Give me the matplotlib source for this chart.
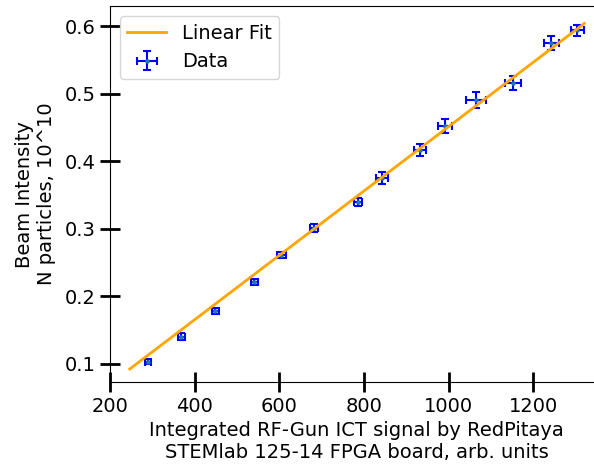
import numpy as np
import matplotlib
matplotlib.use('Agg')
import matplotlib.pyplot as plt

ict_signal = np.array([290, 369, 449, 541, 605, 682, 786, 843, 932, 991, 1064, 1151, 1242, 1304])
intensity = np.array([0.103, 0.140, 0.178, 0.221, 0.261, 0.301, 0.340, 0.375,
                      0.417, 0.452, 0.490, 0.516, 0.575, 0.594])
ict_err = np.array([8, 8, 8, 9, 10, 10, 10, 14, 15, 16, 24, 19, 18, 16])
intensity_err = np.array([0.004, 0.005, 0.005, 0.005, 0.005, 0.006, 0.006, 0.009,
                          0.009, 0.010, 0.012, 0.010, 0.011, 0.008])

# fitted line as drawn in the chart
fit_range = [247, 1320]
fit_slope = 0.000477
fit_intercept = -0.0258

fit_x = np.array(fit_range)
fit_y = fit_slope * fit_x + fit_intercept

fig = plt.figure(figsize=(5.94, 4.70), dpi=100)
ax = fig.add_axes([0.185, 0.187, 0.83, 0.8])

ax.plot(fit_x, fit_y, color='orange', lw=2, label='Linear Fit', zorder=3)
ax.errorbar(ict_signal, intensity, xerr=ict_err, yerr=intensity_err, fmt='.',
            color='tab:blue', ms=4.5, ecolor='blue', elinewidth=1.5, capsize=3,
            capthick=1.5, label='Data', zorder=2)

ax.set_xlim(200, 1364)
ax.set_ylim(0.0726, 0.6296)
ax.set_xticks([200, 400, 600, 800, 1000, 1200])
ax.set_yticks([0.1, 0.2, 0.3, 0.4, 0.5, 0.6])
ax.spines['right'].set_visible(False)  # cut off in the original picture

ax.tick_params(direction='inout', length=14, width=2, labelsize=14)
ax.set_xlabel('Integrated RF-Gun ICT signal by RedPitaya\nSTEMlab 125-14 FPGA board, arb. units',
              fontsize=14)
ax.set_ylabel('Beam Intensity\nN particles, 10^10', fontsize=14, labelpad=6)
ax.legend(loc='upper left', fontsize=14)

fig.savefig('out.png', dpi=100)
